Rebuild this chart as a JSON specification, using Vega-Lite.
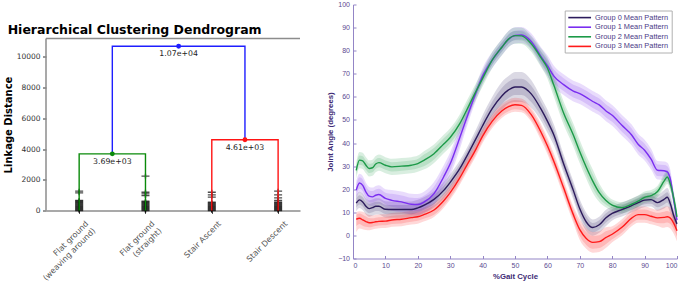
{
  "$schema": "https://vega.github.io/schema/vega-lite/v6.json",
  "background": "white",
  "padding": {"left": 3, "top": 0.5, "right": 0, "bottom": 0},
  "config": {"view": {"stroke": null}, "concat": {"spacing": 25}},
  "resolve": {"scale": {"color": "independent", "stroke": "independent", "fill": "independent"}, "legend": {"color": "independent", "stroke": "independent", "fill": "independent"}},
  "datasets": {
    "links": [
      {"seg": "a", "ord": 1, "x": 5, "y": 0, "cluster": "A"},
      {"seg": "a", "ord": 2, "x": 5, "y": 3690, "cluster": "A"},
      {"seg": "a", "ord": 3, "x": 15, "y": 3690, "cluster": "A"},
      {"seg": "a", "ord": 4, "x": 15, "y": 0, "cluster": "A"},
      {"seg": "b", "ord": 1, "x": 25, "y": 0, "cluster": "B"},
      {"seg": "b", "ord": 2, "x": 25, "y": 4610, "cluster": "B"},
      {"seg": "b", "ord": 3, "x": 35, "y": 4610, "cluster": "B"},
      {"seg": "b", "ord": 4, "x": 35, "y": 0, "cluster": "B"},
      {"seg": "c", "ord": 1, "x": 10, "y": 3690, "cluster": "root"},
      {"seg": "c", "ord": 2, "x": 10, "y": 10700, "cluster": "root"},
      {"seg": "c", "ord": 3, "x": 30, "y": 10700, "cluster": "root"},
      {"seg": "c", "ord": 4, "x": 30, "y": 4610, "cluster": "root"}
    ],
    "nodes": [
      {"x": 10, "y": 3690, "cluster": "A", "lab": "3.69e+03"},
      {"x": 20, "y": 10700, "cluster": "root", "lab": "1.07e+04"},
      {"x": 30, "y": 4610, "cluster": "B", "lab": "4.61e+03"}
    ],
    "samples": [
      {"x": 5, "y": 0}, {"x": 5, "y": 60}, {"x": 5, "y": 120}, {"x": 5, "y": 180}, {"x": 5, "y": 240}, {"x": 5, "y": 300}, {"x": 5, "y": 360}, {"x": 5, "y": 420}, {"x": 5, "y": 480}, {"x": 5, "y": 540}, {"x": 5, "y": 600}, {"x": 5, "y": 660}, {"x": 5, "y": 1150}, {"x": 5, "y": 1260},
      {"x": 15, "y": 0}, {"x": 15, "y": 60}, {"x": 15, "y": 120}, {"x": 15, "y": 180}, {"x": 15, "y": 240}, {"x": 15, "y": 300}, {"x": 15, "y": 360}, {"x": 15, "y": 420}, {"x": 15, "y": 480}, {"x": 15, "y": 540}, {"x": 15, "y": 600}, {"x": 15, "y": 970}, {"x": 15, "y": 1080}, {"x": 15, "y": 1190}, {"x": 15, "y": 2240},
      {"x": 25, "y": 0}, {"x": 25, "y": 60}, {"x": 25, "y": 120}, {"x": 25, "y": 180}, {"x": 25, "y": 240}, {"x": 25, "y": 300}, {"x": 25, "y": 360}, {"x": 25, "y": 420}, {"x": 25, "y": 480}, {"x": 25, "y": 540}, {"x": 25, "y": 870}, {"x": 25, "y": 1020}, {"x": 25, "y": 1190},
      {"x": 35, "y": 0}, {"x": 35, "y": 60}, {"x": 35, "y": 120}, {"x": 35, "y": 180}, {"x": 35, "y": 240}, {"x": 35, "y": 300}, {"x": 35, "y": 360}, {"x": 35, "y": 420}, {"x": 35, "y": 480}, {"x": 35, "y": 540}, {"x": 35, "y": 650}, {"x": 35, "y": 820}, {"x": 35, "y": 1020}, {"x": 35, "y": 1260}
    ],
    "gait": [
      {"g": "Group 0 Mean Pattern", "x": 1, "m": 14, "lo": 10.5, "hi": 17.5, "lo2": 12, "hi2": 16},
      {"g": "Group 0 Mean Pattern", "x": 2, "m": 15.4, "lo": 11.9, "hi": 18.9, "lo2": 13.4, "hi2": 17.4},
      {"g": "Group 0 Mean Pattern", "x": 3, "m": 14.5, "lo": 11, "hi": 18, "lo2": 12.5, "hi2": 16.5},
      {"g": "Group 0 Mean Pattern", "x": 4, "m": 12.6, "lo": 9.1, "hi": 16.1, "lo2": 10.6, "hi2": 14.6},
      {"g": "Group 0 Mean Pattern", "x": 5, "m": 11.6, "lo": 8.1, "hi": 15.1, "lo2": 9.6, "hi2": 13.6},
      {"g": "Group 0 Mean Pattern", "x": 6, "m": 12, "lo": 8.5, "hi": 15.5, "lo2": 10, "hi2": 14},
      {"g": "Group 0 Mean Pattern", "x": 7, "m": 12.6, "lo": 9.1, "hi": 16.1, "lo2": 10.6, "hi2": 14.6},
      {"g": "Group 0 Mean Pattern", "x": 8, "m": 12.6, "lo": 9.1, "hi": 16.1, "lo2": 10.6, "hi2": 14.6},
      {"g": "Group 0 Mean Pattern", "x": 10, "m": 11.3, "lo": 7.8, "hi": 14.8, "lo2": 9.3, "hi2": 13.3},
      {"g": "Group 0 Mean Pattern", "x": 12, "m": 11.2, "lo": 7.7, "hi": 14.7, "lo2": 9.2, "hi2": 13.2},
      {"g": "Group 0 Mean Pattern", "x": 15, "m": 11.2, "lo": 7.7, "hi": 14.7, "lo2": 9.2, "hi2": 13.2},
      {"g": "Group 0 Mean Pattern", "x": 18, "m": 11.2, "lo": 7.7, "hi": 14.7, "lo2": 9.2, "hi2": 13.2},
      {"g": "Group 0 Mean Pattern", "x": 20, "m": 11.9, "lo": 8.4, "hi": 15.4, "lo2": 9.9, "hi2": 13.9},
      {"g": "Group 0 Mean Pattern", "x": 22, "m": 13.1, "lo": 9.6, "hi": 16.6, "lo2": 11.1, "hi2": 15.1},
      {"g": "Group 0 Mean Pattern", "x": 25, "m": 15.6, "lo": 12.1, "hi": 19.1, "lo2": 13.6, "hi2": 17.6},
      {"g": "Group 0 Mean Pattern", "x": 28, "m": 19.5, "lo": 16, "hi": 23, "lo2": 17.5, "hi2": 21.5},
      {"g": "Group 0 Mean Pattern", "x": 30, "m": 23, "lo": 19.5, "hi": 26.5, "lo2": 21, "hi2": 25},
      {"g": "Group 0 Mean Pattern", "x": 33, "m": 29, "lo": 25.5, "hi": 32.5, "lo2": 27, "hi2": 31},
      {"g": "Group 0 Mean Pattern", "x": 35, "m": 34, "lo": 30.5, "hi": 37.5, "lo2": 32, "hi2": 36},
      {"g": "Group 0 Mean Pattern", "x": 38, "m": 42, "lo": 38, "hi": 46, "lo2": 39.8, "hi2": 44.2},
      {"g": "Group 0 Mean Pattern", "x": 40, "m": 47.5, "lo": 43, "hi": 52, "lo2": 45, "hi2": 50},
      {"g": "Group 0 Mean Pattern", "x": 43, "m": 55, "lo": 50, "hi": 60, "lo2": 52, "hi2": 58},
      {"g": "Group 0 Mean Pattern", "x": 46, "m": 60.5, "lo": 54.5, "hi": 66.5, "lo2": 57, "hi2": 64},
      {"g": "Group 0 Mean Pattern", "x": 48, "m": 63, "lo": 57, "hi": 69, "lo2": 59.5, "hi2": 66.5},
      {"g": "Group 0 Mean Pattern", "x": 50, "m": 64.3, "lo": 57.8, "hi": 70.8, "lo2": 60.8, "hi2": 67.8},
      {"g": "Group 0 Mean Pattern", "x": 52, "m": 64.3, "lo": 57.8, "hi": 70.8, "lo2": 60.8, "hi2": 67.8},
      {"g": "Group 0 Mean Pattern", "x": 55, "m": 61.3, "lo": 55.3, "hi": 67.3, "lo2": 57.8, "hi2": 64.8},
      {"g": "Group 0 Mean Pattern", "x": 58, "m": 54.8, "lo": 49.8, "hi": 59.8, "lo2": 51.8, "hi2": 57.8},
      {"g": "Group 0 Mean Pattern", "x": 60, "m": 49.5, "lo": 44.5, "hi": 54.5, "lo2": 46.5, "hi2": 52.5},
      {"g": "Group 0 Mean Pattern", "x": 62, "m": 43.5, "lo": 39, "hi": 48, "lo2": 41, "hi2": 46},
      {"g": "Group 0 Mean Pattern", "x": 65, "m": 31, "lo": 27, "hi": 35, "lo2": 28.5, "hi2": 33.5},
      {"g": "Group 0 Mean Pattern", "x": 68, "m": 19.5, "lo": 15.5, "hi": 23.5, "lo2": 17, "hi2": 22},
      {"g": "Group 0 Mean Pattern", "x": 70, "m": 11.5, "lo": 7.5, "hi": 15.5, "lo2": 9, "hi2": 14},
      {"g": "Group 0 Mean Pattern", "x": 72, "m": 5.8, "lo": 1.8, "hi": 9.8, "lo2": 3.3, "hi2": 8.3},
      {"g": "Group 0 Mean Pattern", "x": 74, "m": 3.4, "lo": -0.1, "hi": 6.9, "lo2": 1.4, "hi2": 5.4},
      {"g": "Group 0 Mean Pattern", "x": 76, "m": 4.6, "lo": 1.1, "hi": 8.1, "lo2": 2.6, "hi2": 6.6},
      {"g": "Group 0 Mean Pattern", "x": 78, "m": 7.5, "lo": 4, "hi": 11, "lo2": 5.5, "hi2": 9.5},
      {"g": "Group 0 Mean Pattern", "x": 80, "m": 9.5, "lo": 6.5, "hi": 12.5, "lo2": 7.7, "hi2": 11.3},
      {"g": "Group 0 Mean Pattern", "x": 83, "m": 11.2, "lo": 8.2, "hi": 14.2, "lo2": 9.4, "hi2": 13},
      {"g": "Group 0 Mean Pattern", "x": 86, "m": 12.9, "lo": 9.9, "hi": 15.9, "lo2": 11.1, "hi2": 14.7},
      {"g": "Group 0 Mean Pattern", "x": 88, "m": 14.2, "lo": 11.2, "hi": 17.2, "lo2": 12.4, "hi2": 16},
      {"g": "Group 0 Mean Pattern", "x": 90, "m": 15.3, "lo": 12.3, "hi": 18.3, "lo2": 13.5, "hi2": 17.1},
      {"g": "Group 0 Mean Pattern", "x": 92, "m": 15.5, "lo": 12.5, "hi": 18.5, "lo2": 13.7, "hi2": 17.3},
      {"g": "Group 0 Mean Pattern", "x": 94, "m": 14.2, "lo": 10.7, "hi": 17.7, "lo2": 12.2, "hi2": 16.2},
      {"g": "Group 0 Mean Pattern", "x": 96, "m": 15.6, "lo": 11.6, "hi": 19.6, "lo2": 13.4, "hi2": 17.8},
      {"g": "Group 0 Mean Pattern", "x": 97, "m": 16.5, "lo": 12.5, "hi": 20.5, "lo2": 14.3, "hi2": 18.7},
      {"g": "Group 0 Mean Pattern", "x": 98, "m": 13.5, "lo": 9.5, "hi": 17.5, "lo2": 11.3, "hi2": 15.7},
      {"g": "Group 0 Mean Pattern", "x": 99, "m": 8.5, "lo": 5.5, "hi": 11.5, "lo2": 6.7, "hi2": 10.3},
      {"g": "Group 0 Mean Pattern", "x": 100, "m": 5, "lo": 2, "hi": 8, "lo2": 3.2, "hi2": 6.8},

      {"g": "Group 1 Mean Pattern", "x": 1, "m": 19.6, "lo": 15.6, "hi": 23.6, "lo2": 17.1, "hi2": 22.1},
      {"g": "Group 1 Mean Pattern", "x": 2, "m": 22.7, "lo": 18.7, "hi": 26.7, "lo2": 20.2, "hi2": 25.2},
      {"g": "Group 1 Mean Pattern", "x": 3, "m": 21.7, "lo": 17.7, "hi": 25.7, "lo2": 19.2, "hi2": 24.2},
      {"g": "Group 1 Mean Pattern", "x": 4, "m": 18.8, "lo": 14.8, "hi": 22.8, "lo2": 16.3, "hi2": 21.3},
      {"g": "Group 1 Mean Pattern", "x": 5, "m": 17, "lo": 13, "hi": 21, "lo2": 14.5, "hi2": 19.5},
      {"g": "Group 1 Mean Pattern", "x": 6, "m": 16.7, "lo": 12.7, "hi": 20.7, "lo2": 14.2, "hi2": 19.2},
      {"g": "Group 1 Mean Pattern", "x": 7, "m": 17.4, "lo": 13.4, "hi": 21.4, "lo2": 14.9, "hi2": 19.9},
      {"g": "Group 1 Mean Pattern", "x": 8, "m": 17.7, "lo": 13.7, "hi": 21.7, "lo2": 15.2, "hi2": 20.2},
      {"g": "Group 1 Mean Pattern", "x": 10, "m": 16, "lo": 12, "hi": 20, "lo2": 13.5, "hi2": 18.5},
      {"g": "Group 1 Mean Pattern", "x": 12, "m": 15.2, "lo": 10.7, "hi": 19.7, "lo2": 12.4, "hi2": 18},
      {"g": "Group 1 Mean Pattern", "x": 15, "m": 14.5, "lo": 10, "hi": 19, "lo2": 11.7, "hi2": 17.3},
      {"g": "Group 1 Mean Pattern", "x": 18, "m": 13.5, "lo": 9, "hi": 18, "lo2": 10.7, "hi2": 16.3},
      {"g": "Group 1 Mean Pattern", "x": 20, "m": 13.4, "lo": 8.9, "hi": 17.9, "lo2": 10.6, "hi2": 16.2},
      {"g": "Group 1 Mean Pattern", "x": 22, "m": 14.5, "lo": 10, "hi": 19, "lo2": 11.7, "hi2": 17.3},
      {"g": "Group 1 Mean Pattern", "x": 25, "m": 18.1, "lo": 13.1, "hi": 23.1, "lo2": 15.1, "hi2": 21.1},
      {"g": "Group 1 Mean Pattern", "x": 28, "m": 25.4, "lo": 20.4, "hi": 30.4, "lo2": 22.4, "hi2": 28.4},
      {"g": "Group 1 Mean Pattern", "x": 30, "m": 31, "lo": 26, "hi": 36, "lo2": 28, "hi2": 34},
      {"g": "Group 1 Mean Pattern", "x": 33, "m": 42.5, "lo": 37.5, "hi": 47.5, "lo2": 39.5, "hi2": 45.5},
      {"g": "Group 1 Mean Pattern", "x": 35, "m": 50.5, "lo": 46.5, "hi": 54.5, "lo2": 48, "hi2": 53},
      {"g": "Group 1 Mean Pattern", "x": 38, "m": 62, "lo": 58.5, "hi": 65.5, "lo2": 60, "hi2": 64},
      {"g": "Group 1 Mean Pattern", "x": 40, "m": 69, "lo": 65.5, "hi": 72.5, "lo2": 67, "hi2": 71},
      {"g": "Group 1 Mean Pattern", "x": 43, "m": 76, "lo": 72.5, "hi": 79.5, "lo2": 74, "hi2": 78},
      {"g": "Group 1 Mean Pattern", "x": 46, "m": 81.6, "lo": 78.1, "hi": 85.1, "lo2": 79.6, "hi2": 83.6},
      {"g": "Group 1 Mean Pattern", "x": 48, "m": 85, "lo": 81.5, "hi": 88.5, "lo2": 83, "hi2": 87},
      {"g": "Group 1 Mean Pattern", "x": 50, "m": 86.6, "lo": 83.1, "hi": 90.1, "lo2": 84.6, "hi2": 88.6},
      {"g": "Group 1 Mean Pattern", "x": 52, "m": 86.8, "lo": 83.3, "hi": 90.3, "lo2": 84.8, "hi2": 88.8},
      {"g": "Group 1 Mean Pattern", "x": 55, "m": 84, "lo": 80.5, "hi": 87.5, "lo2": 82, "hi2": 86},
      {"g": "Group 1 Mean Pattern", "x": 58, "m": 77.5, "lo": 73.5, "hi": 81.5, "lo2": 75, "hi2": 80},
      {"g": "Group 1 Mean Pattern", "x": 60, "m": 73.5, "lo": 69, "hi": 78, "lo2": 70.7, "hi2": 76.3},
      {"g": "Group 1 Mean Pattern", "x": 62, "m": 69, "lo": 64.5, "hi": 73.5, "lo2": 66.2, "hi2": 71.8},
      {"g": "Group 1 Mean Pattern", "x": 65, "m": 65.3, "lo": 60.8, "hi": 69.8, "lo2": 62.5, "hi2": 68.1},
      {"g": "Group 1 Mean Pattern", "x": 68, "m": 62.5, "lo": 58, "hi": 67, "lo2": 59.7, "hi2": 65.3},
      {"g": "Group 1 Mean Pattern", "x": 70, "m": 61.4, "lo": 56.9, "hi": 65.9, "lo2": 58.6, "hi2": 64.2},
      {"g": "Group 1 Mean Pattern", "x": 72, "m": 59.8, "lo": 55.3, "hi": 64.3, "lo2": 57, "hi2": 62.6},
      {"g": "Group 1 Mean Pattern", "x": 74, "m": 58, "lo": 53.5, "hi": 62.5, "lo2": 55.2, "hi2": 60.8},
      {"g": "Group 1 Mean Pattern", "x": 76, "m": 56.5, "lo": 52, "hi": 61, "lo2": 53.7, "hi2": 59.3},
      {"g": "Group 1 Mean Pattern", "x": 78, "m": 54, "lo": 49.5, "hi": 58.5, "lo2": 51.2, "hi2": 56.8},
      {"g": "Group 1 Mean Pattern", "x": 80, "m": 52, "lo": 47.5, "hi": 56.5, "lo2": 49.2, "hi2": 54.8},
      {"g": "Group 1 Mean Pattern", "x": 83, "m": 47.7, "lo": 43.2, "hi": 52.2, "lo2": 44.9, "hi2": 50.5},
      {"g": "Group 1 Mean Pattern", "x": 86, "m": 43.5, "lo": 39, "hi": 48, "lo2": 40.7, "hi2": 46.3},
      {"g": "Group 1 Mean Pattern", "x": 88, "m": 39.5, "lo": 35, "hi": 44, "lo2": 36.7, "hi2": 42.3},
      {"g": "Group 1 Mean Pattern", "x": 90, "m": 36.9, "lo": 32.4, "hi": 41.4, "lo2": 34.1, "hi2": 39.7},
      {"g": "Group 1 Mean Pattern", "x": 92, "m": 33, "lo": 28.5, "hi": 37.5, "lo2": 30.2, "hi2": 35.8},
      {"g": "Group 1 Mean Pattern", "x": 94, "m": 28.2, "lo": 24.2, "hi": 32.2, "lo2": 25.7, "hi2": 30.7},
      {"g": "Group 1 Mean Pattern", "x": 96, "m": 28, "lo": 24, "hi": 32, "lo2": 25.5, "hi2": 30.5},
      {"g": "Group 1 Mean Pattern", "x": 97, "m": 27.5, "lo": 23.5, "hi": 31.5, "lo2": 25, "hi2": 30},
      {"g": "Group 1 Mean Pattern", "x": 98, "m": 24, "lo": 20, "hi": 28, "lo2": 21.5, "hi2": 26.5},
      {"g": "Group 1 Mean Pattern", "x": 99, "m": 15.3, "lo": 12.3, "hi": 18.3, "lo2": 13.3, "hi2": 17.3},
      {"g": "Group 1 Mean Pattern", "x": 100, "m": 6.6, "lo": 3.6, "hi": 9.6, "lo2": 4.6, "hi2": 8.6},

      {"g": "Group 2 Mean Pattern", "x": 1, "m": 28.2, "lo": 24.7, "hi": 31.7, "lo2": 26.2, "hi2": 30.2},
      {"g": "Group 2 Mean Pattern", "x": 2, "m": 32.6, "lo": 29.1, "hi": 36.1, "lo2": 30.6, "hi2": 34.6},
      {"g": "Group 2 Mean Pattern", "x": 3, "m": 32.3, "lo": 28.8, "hi": 35.8, "lo2": 30.3, "hi2": 34.3},
      {"g": "Group 2 Mean Pattern", "x": 4, "m": 30.4, "lo": 26.9, "hi": 33.9, "lo2": 28.4, "hi2": 32.4},
      {"g": "Group 2 Mean Pattern", "x": 5, "m": 29, "lo": 25.5, "hi": 32.5, "lo2": 27, "hi2": 31},
      {"g": "Group 2 Mean Pattern", "x": 6, "m": 29.3, "lo": 25.8, "hi": 32.8, "lo2": 27.3, "hi2": 31.3},
      {"g": "Group 2 Mean Pattern", "x": 7, "m": 30.9, "lo": 27.4, "hi": 34.4, "lo2": 28.9, "hi2": 32.9},
      {"g": "Group 2 Mean Pattern", "x": 8, "m": 31.5, "lo": 28, "hi": 35, "lo2": 29.5, "hi2": 33.5},
      {"g": "Group 2 Mean Pattern", "x": 10, "m": 30.4, "lo": 26.9, "hi": 33.9, "lo2": 28.4, "hi2": 32.4},
      {"g": "Group 2 Mean Pattern", "x": 12, "m": 29.7, "lo": 26.2, "hi": 33.2, "lo2": 27.7, "hi2": 31.7},
      {"g": "Group 2 Mean Pattern", "x": 15, "m": 30, "lo": 26.5, "hi": 33.5, "lo2": 28, "hi2": 32},
      {"g": "Group 2 Mean Pattern", "x": 18, "m": 30.4, "lo": 26.9, "hi": 33.9, "lo2": 28.4, "hi2": 32.4},
      {"g": "Group 2 Mean Pattern", "x": 20, "m": 31.1, "lo": 27.6, "hi": 34.6, "lo2": 29.1, "hi2": 33.1},
      {"g": "Group 2 Mean Pattern", "x": 22, "m": 32.6, "lo": 28.6, "hi": 36.6, "lo2": 30.1, "hi2": 35.1},
      {"g": "Group 2 Mean Pattern", "x": 25, "m": 35.4, "lo": 31.4, "hi": 39.4, "lo2": 32.9, "hi2": 37.9},
      {"g": "Group 2 Mean Pattern", "x": 28, "m": 39.6, "lo": 35.6, "hi": 43.6, "lo2": 37.1, "hi2": 42.1},
      {"g": "Group 2 Mean Pattern", "x": 30, "m": 42.4, "lo": 38.4, "hi": 46.4, "lo2": 39.9, "hi2": 44.9},
      {"g": "Group 2 Mean Pattern", "x": 33, "m": 48.5, "lo": 44.5, "hi": 52.5, "lo2": 46, "hi2": 51},
      {"g": "Group 2 Mean Pattern", "x": 35, "m": 54, "lo": 50, "hi": 58, "lo2": 51.5, "hi2": 56.5},
      {"g": "Group 2 Mean Pattern", "x": 38, "m": 62.5, "lo": 59, "hi": 66, "lo2": 60.5, "hi2": 64.5},
      {"g": "Group 2 Mean Pattern", "x": 40, "m": 68, "lo": 64.5, "hi": 71.5, "lo2": 66, "hi2": 70},
      {"g": "Group 2 Mean Pattern", "x": 43, "m": 76, "lo": 72.5, "hi": 79.5, "lo2": 74, "hi2": 78},
      {"g": "Group 2 Mean Pattern", "x": 46, "m": 81.6, "lo": 78.1, "hi": 85.1, "lo2": 79.6, "hi2": 83.6},
      {"g": "Group 2 Mean Pattern", "x": 48, "m": 85, "lo": 81.5, "hi": 88.5, "lo2": 83, "hi2": 87},
      {"g": "Group 2 Mean Pattern", "x": 50, "m": 86.5, "lo": 83, "hi": 90, "lo2": 84.5, "hi2": 88.5},
      {"g": "Group 2 Mean Pattern", "x": 52, "m": 86.4, "lo": 82.9, "hi": 89.9, "lo2": 84.4, "hi2": 88.4},
      {"g": "Group 2 Mean Pattern", "x": 55, "m": 83, "lo": 79.5, "hi": 86.5, "lo2": 81, "hi2": 85},
      {"g": "Group 2 Mean Pattern", "x": 58, "m": 77, "lo": 73, "hi": 81, "lo2": 74.5, "hi2": 79.5},
      {"g": "Group 2 Mean Pattern", "x": 60, "m": 72.5, "lo": 68, "hi": 77, "lo2": 69.7, "hi2": 75.3},
      {"g": "Group 2 Mean Pattern", "x": 62, "m": 65, "lo": 60, "hi": 70, "lo2": 62, "hi2": 68},
      {"g": "Group 2 Mean Pattern", "x": 65, "m": 53, "lo": 48, "hi": 58, "lo2": 50, "hi2": 56},
      {"g": "Group 2 Mean Pattern", "x": 68, "m": 43.5, "lo": 38.5, "hi": 48.5, "lo2": 40.5, "hi2": 46.5},
      {"g": "Group 2 Mean Pattern", "x": 70, "m": 36.2, "lo": 31.2, "hi": 41.2, "lo2": 33.2, "hi2": 39.2},
      {"g": "Group 2 Mean Pattern", "x": 72, "m": 29.5, "lo": 24.5, "hi": 34.5, "lo2": 26.5, "hi2": 32.5},
      {"g": "Group 2 Mean Pattern", "x": 74, "m": 23.5, "lo": 18.5, "hi": 28.5, "lo2": 20.5, "hi2": 26.5},
      {"g": "Group 2 Mean Pattern", "x": 76, "m": 18.5, "lo": 14.5, "hi": 22.5, "lo2": 16, "hi2": 21},
      {"g": "Group 2 Mean Pattern", "x": 78, "m": 15.2, "lo": 12.2, "hi": 18.2, "lo2": 13.4, "hi2": 17},
      {"g": "Group 2 Mean Pattern", "x": 80, "m": 13.1, "lo": 10.6, "hi": 15.6, "lo2": 11.6, "hi2": 14.6},
      {"g": "Group 2 Mean Pattern", "x": 83, "m": 12, "lo": 9.5, "hi": 14.5, "lo2": 10.5, "hi2": 13.5},
      {"g": "Group 2 Mean Pattern", "x": 86, "m": 13.5, "lo": 11, "hi": 16, "lo2": 12, "hi2": 15},
      {"g": "Group 2 Mean Pattern", "x": 88, "m": 14.8, "lo": 12.3, "hi": 17.3, "lo2": 13.3, "hi2": 16.3},
      {"g": "Group 2 Mean Pattern", "x": 90, "m": 16.5, "lo": 14, "hi": 19, "lo2": 15, "hi2": 18},
      {"g": "Group 2 Mean Pattern", "x": 92, "m": 17.2, "lo": 14.7, "hi": 19.7, "lo2": 15.7, "hi2": 18.7},
      {"g": "Group 2 Mean Pattern", "x": 94, "m": 19, "lo": 16.5, "hi": 21.5, "lo2": 17.5, "hi2": 20.5},
      {"g": "Group 2 Mean Pattern", "x": 96, "m": 23.5, "lo": 20.5, "hi": 26.5, "lo2": 21.5, "hi2": 25.5},
      {"g": "Group 2 Mean Pattern", "x": 97, "m": 25.3, "lo": 22.3, "hi": 28.3, "lo2": 23.3, "hi2": 27.3},
      {"g": "Group 2 Mean Pattern", "x": 98, "m": 22, "lo": 19, "hi": 25, "lo2": 20, "hi2": 24},
      {"g": "Group 2 Mean Pattern", "x": 99, "m": 16, "lo": 13, "hi": 19, "lo2": 14, "hi2": 18},
      {"g": "Group 2 Mean Pattern", "x": 100, "m": 8, "lo": 5, "hi": 11, "lo2": 6, "hi2": 10},

      {"g": "Group 3 Mean Pattern", "x": 1, "m": 7, "lo": 1.5, "hi": 10, "lo2": 4, "hi2": 9},
      {"g": "Group 3 Mean Pattern", "x": 2, "m": 7.4, "lo": 3, "hi": 10.5, "lo2": 4.9, "hi2": 9.5},
      {"g": "Group 3 Mean Pattern", "x": 3, "m": 6.7, "lo": 2.7, "hi": 10.2, "lo2": 4.2, "hi2": 9},
      {"g": "Group 3 Mean Pattern", "x": 4, "m": 6, "lo": 2.3, "hi": 9.5, "lo2": 3.7, "hi2": 8.2},
      {"g": "Group 3 Mean Pattern", "x": 5, "m": 5.5, "lo": 2.2, "hi": 8.8, "lo2": 3.5, "hi2": 7.5},
      {"g": "Group 3 Mean Pattern", "x": 6, "m": 5.6, "lo": 2.6, "hi": 8.6, "lo2": 3.8, "hi2": 7.4},
      {"g": "Group 3 Mean Pattern", "x": 7, "m": 5.9, "lo": 2.9, "hi": 8.9, "lo2": 4.1, "hi2": 7.7},
      {"g": "Group 3 Mean Pattern", "x": 8, "m": 6.1, "lo": 3.1, "hi": 9.1, "lo2": 4.3, "hi2": 7.9},
      {"g": "Group 3 Mean Pattern", "x": 10, "m": 6.2, "lo": 3.2, "hi": 9.2, "lo2": 4.4, "hi2": 8},
      {"g": "Group 3 Mean Pattern", "x": 12, "m": 6.7, "lo": 3.7, "hi": 9.7, "lo2": 4.9, "hi2": 8.5},
      {"g": "Group 3 Mean Pattern", "x": 15, "m": 7, "lo": 4, "hi": 10, "lo2": 5.2, "hi2": 8.8},
      {"g": "Group 3 Mean Pattern", "x": 18, "m": 7.7, "lo": 4.7, "hi": 10.7, "lo2": 5.9, "hi2": 9.5},
      {"g": "Group 3 Mean Pattern", "x": 20, "m": 8.1, "lo": 5.1, "hi": 11.1, "lo2": 6.3, "hi2": 9.9},
      {"g": "Group 3 Mean Pattern", "x": 22, "m": 9.1, "lo": 6.1, "hi": 12.1, "lo2": 7.3, "hi2": 10.9},
      {"g": "Group 3 Mean Pattern", "x": 25, "m": 11, "lo": 8, "hi": 14, "lo2": 9, "hi2": 13},
      {"g": "Group 3 Mean Pattern", "x": 28, "m": 15, "lo": 12, "hi": 18, "lo2": 13, "hi2": 17},
      {"g": "Group 3 Mean Pattern", "x": 30, "m": 18.5, "lo": 15.5, "hi": 21.5, "lo2": 16.5, "hi2": 20.5},
      {"g": "Group 3 Mean Pattern", "x": 33, "m": 25, "lo": 22, "hi": 28, "lo2": 23, "hi2": 27},
      {"g": "Group 3 Mean Pattern", "x": 35, "m": 30, "lo": 27, "hi": 33, "lo2": 28, "hi2": 32},
      {"g": "Group 3 Mean Pattern", "x": 38, "m": 37.5, "lo": 34.5, "hi": 40.5, "lo2": 35.5, "hi2": 39.5},
      {"g": "Group 3 Mean Pattern", "x": 40, "m": 43, "lo": 40, "hi": 46, "lo2": 41, "hi2": 45},
      {"g": "Group 3 Mean Pattern", "x": 43, "m": 49.5, "lo": 46.5, "hi": 52.5, "lo2": 47.5, "hi2": 51.5},
      {"g": "Group 3 Mean Pattern", "x": 46, "m": 54, "lo": 51, "hi": 57, "lo2": 52, "hi2": 56},
      {"g": "Group 3 Mean Pattern", "x": 48, "m": 55.8, "lo": 52.8, "hi": 58.8, "lo2": 53.8, "hi2": 57.8},
      {"g": "Group 3 Mean Pattern", "x": 50, "m": 56.6, "lo": 53.6, "hi": 59.6, "lo2": 54.6, "hi2": 58.6},
      {"g": "Group 3 Mean Pattern", "x": 52, "m": 56.3, "lo": 53.3, "hi": 59.3, "lo2": 54.3, "hi2": 58.3},
      {"g": "Group 3 Mean Pattern", "x": 55, "m": 52.3, "lo": 49.3, "hi": 55.3, "lo2": 50.3, "hi2": 54.3},
      {"g": "Group 3 Mean Pattern", "x": 58, "m": 44.8, "lo": 41.3, "hi": 48.3, "lo2": 42.6, "hi2": 47},
      {"g": "Group 3 Mean Pattern", "x": 60, "m": 38.8, "lo": 35.3, "hi": 42.3, "lo2": 36.6, "hi2": 41},
      {"g": "Group 3 Mean Pattern", "x": 62, "m": 32, "lo": 28.5, "hi": 35.5, "lo2": 29.8, "hi2": 34.2},
      {"g": "Group 3 Mean Pattern", "x": 65, "m": 20.6, "lo": 17.1, "hi": 24.1, "lo2": 18.4, "hi2": 22.8},
      {"g": "Group 3 Mean Pattern", "x": 68, "m": 9, "lo": 5.5, "hi": 12.5, "lo2": 6.8, "hi2": 11.2},
      {"g": "Group 3 Mean Pattern", "x": 70, "m": 2.5, "lo": -2, "hi": 7, "lo2": -0.3, "hi2": 5.3},
      {"g": "Group 3 Mean Pattern", "x": 72, "m": -1.3, "lo": -5.8, "hi": 3.2, "lo2": -4.1, "hi2": 1.5},
      {"g": "Group 3 Mean Pattern", "x": 74, "m": -3, "lo": -7.5, "hi": 1.5, "lo2": -5.8, "hi2": -0.2},
      {"g": "Group 3 Mean Pattern", "x": 76, "m": -2.7, "lo": -7.2, "hi": 1.8, "lo2": -5.5, "hi2": 0.1},
      {"g": "Group 3 Mean Pattern", "x": 78, "m": -1, "lo": -5.5, "hi": 3.5, "lo2": -3.8, "hi2": 1.8},
      {"g": "Group 3 Mean Pattern", "x": 80, "m": 0.5, "lo": -3, "hi": 4, "lo2": -1.7, "hi2": 2.7},
      {"g": "Group 3 Mean Pattern", "x": 83, "m": 3.5, "lo": 0, "hi": 7, "lo2": 1.3, "hi2": 5.7},
      {"g": "Group 3 Mean Pattern", "x": 86, "m": 7.5, "lo": 4, "hi": 11, "lo2": 5.3, "hi2": 9.7},
      {"g": "Group 3 Mean Pattern", "x": 88, "m": 9, "lo": 5.5, "hi": 12.5, "lo2": 6.8, "hi2": 11.2},
      {"g": "Group 3 Mean Pattern", "x": 90, "m": 9, "lo": 5.5, "hi": 12.5, "lo2": 6.8, "hi2": 11.2},
      {"g": "Group 3 Mean Pattern", "x": 92, "m": 8.3, "lo": 4.8, "hi": 11.8, "lo2": 6.1, "hi2": 10.5},
      {"g": "Group 3 Mean Pattern", "x": 94, "m": 7.6, "lo": 4.1, "hi": 11.1, "lo2": 5.4, "hi2": 9.8},
      {"g": "Group 3 Mean Pattern", "x": 96, "m": 7.8, "lo": 3.3, "hi": 12.3, "lo2": 5.3, "hi2": 10.3},
      {"g": "Group 3 Mean Pattern", "x": 97, "m": 8.1, "lo": 3.6, "hi": 12.6, "lo2": 5.6, "hi2": 10.6},
      {"g": "Group 3 Mean Pattern", "x": 98, "m": 7.4, "lo": 2.9, "hi": 11.9, "lo2": 4.9, "hi2": 9.9},
      {"g": "Group 3 Mean Pattern", "x": 99, "m": 5.2, "lo": 0.7, "hi": 9.7, "lo2": 2.7, "hi2": 7.7},
      {"g": "Group 3 Mean Pattern", "x": 100, "m": 2, "lo": -2.5, "hi": 6.5, "lo2": -0.5, "hi2": 4.5}
    ]
  },
  "hconcat": [
    {
      "width": 254,
      "height": 206,
      "title": {"text": "Hierarchical Clustering Dendrogram", "anchor": "start", "frame": "bounds", "dx": 4, "font": "DejaVu Sans", "fontSize": 12.5, "fontWeight": "bold", "color": "#000000", "baseline": "alphabetic", "offset": -41.5},
      "layer": [
        {"data": {"name": "samples"},
         "mark": {"type": "point", "shape": "M-1,0L1,0M0,-0.6L0,0.6", "filled": false, "stroke": "#000000", "strokeWidth": 1.4, "opacity": 0.7, "size": 64},
         "encoding": {
           "x": {"field": "x", "type": "quantitative", "scale": {"domain": [0, 38.3], "nice": false, "zero": false},
             "axis": {"title": null, "values": [5, 15, 25, 35], "grid": false,
               "labelExpr": "datum.value == 5 ? ['Flat ground\u00a0\u00a0\u00a0\u00a0\u00a0\u00a0', '(weaving around)'] : datum.value == 15 ? ['Flat ground', '(straight)\u00a0\u00a0\u00a0'] : datum.value == 25 ? 'Stair Ascent' : 'Stair Descent'",
               "labelAngle": -45, "labelAlign": "right", "labelBaseline": "top", "labelOffset": 5, "labelPadding": 6,
               "labelFont": "DejaVu Sans", "labelFontSize": 8, "labelColor": "#555555", "labelLineHeight": 10,
               "domainColor": "#8c8c8c", "domainWidth": 1.5, "tickColor": "#555555", "tickSize": 3}},
           "y": {"field": "y", "type": "quantitative", "scale": {"domain": [0, 13414], "nice": false},
             "axis": {"title": "Linkage Distance", "values": [0, 2000, 4000, 6000, 8000, 10000], "format": "d", "grid": false, "domain": false,
               "titleFont": "DejaVu Sans", "titleFontSize": 10, "titleFontWeight": "bold", "titleColor": "#000000", "titlePadding": 2.5, "titleY": 120,
               "labelFont": "DejaVu Sans", "labelFontSize": 7.5, "labelColor": "#333333", "labelPadding": 2.5,
               "tickColor": "#333333", "tickSize": 3.5}}}},
        {"data": {"values": [{}]},
         "mark": {"type": "rule", "color": "#8c8c8c", "strokeWidth": 1.5},
         "encoding": {"y": {"datum": 11200}}},
        {"data": {"values": [{}]},
         "mark": {"type": "rule", "color": "#8c8c8c", "strokeWidth": 1.5},
         "encoding": {"x": {"datum": 0}, "y": {"datum": 0}, "y2": {"datum": 11200}}},
        {"data": {"name": "links"},
         "mark": {"type": "line", "strokeWidth": 1.4},
         "encoding": {"x": {"field": "x", "type": "quantitative"}, "y": {"field": "y", "type": "quantitative"},
           "detail": {"field": "seg"}, "order": {"field": "ord", "type": "quantitative"},
           "color": {"field": "cluster", "type": "nominal", "scale": {"domain": ["A", "B", "root"], "range": ["#0a8a0a", "#ff1414", "#1e1eff"]}, "legend": null}}},
        {"data": {"name": "nodes"},
         "mark": {"type": "point", "filled": true, "opacity": 1, "size": 24},
         "encoding": {"x": {"field": "x", "type": "quantitative"}, "y": {"field": "y", "type": "quantitative"},
           "color": {"field": "cluster", "type": "nominal", "scale": {"domain": ["A", "B", "root"], "range": ["#0a8a0a", "#ff1414", "#1e1eff"]}, "legend": null}}},
        {"data": {"name": "nodes"},
         "mark": {"type": "text", "baseline": "top", "dy": 4, "font": "DejaVu Sans", "fontSize": 7.8, "color": "#222222"},
         "encoding": {"x": {"field": "x", "type": "quantitative"}, "y": {"field": "y", "type": "quantitative"}, "text": {"field": "lab"}}}
      ]
    },
    {
      "width": 324,
      "height": 254,
      "data": {"name": "gait"},
      "encoding": {
        "x": {"field": "x", "type": "quantitative", "scale": {"domain": [0, 100], "nice": false},
          "axis": {"title": "%Gait Cycle", "values": [0, 10, 20, 30, 40, 50, 60, 70, 80, 90, 100], "grid": false,
            "titleFont": "Liberation Sans", "titleFontSize": 7.8, "titleFontWeight": "bold", "titleColor": "#3e2b75", "titlePadding": 4,
            "labelFont": "Liberation Sans", "labelFontSize": 7, "labelColor": "#5b4a90", "labelPadding": 6,
            "domainColor": "#9385c6", "tickColor": "#9385c6", "tickSize": -3}},
        "y": {"field": "m", "type": "quantitative", "scale": {"domain": [-10, 100], "nice": false},
          "axis": {"title": "Joint Angle (degrees)", "values": [-10, 0, 10, 20, 30, 40, 50, 60, 70, 80, 90, 100], "grid": false,
            "titleFont": "Liberation Sans", "titleFontSize": 7.8, "titleFontWeight": "bold", "titleColor": "#3e2b75", "titlePadding": 3,
            "labelFont": "Liberation Sans", "labelFontSize": 7, "labelColor": "#5b4a90", "labelPadding": 6.5,
            "domainColor": "#9385c6", "tickColor": "#9385c6", "tickSize": -3}}
      },
      "layer": [
        {"mark": {"type": "area", "interpolate": "monotone", "fillOpacity": 0.17},
         "encoding": {"y": {"field": "lo", "type": "quantitative"}, "y2": {"field": "hi"},
           "fill": {"field": "g", "type": "nominal", "scale": {"domain": ["Group 3 Mean Pattern", "Group 2 Mean Pattern", "Group 1 Mean Pattern", "Group 0 Mean Pattern"], "range": ["#ff1a1a", "#1c9a48", "#7a2ef0", "#2c1b5c"]}, "legend": null}}},
        {"mark": {"type": "area", "interpolate": "monotone", "fillOpacity": 0.17},
         "encoding": {"y": {"field": "lo2", "type": "quantitative"}, "y2": {"field": "hi2"},
           "fill": {"field": "g", "type": "nominal", "scale": {"domain": ["Group 3 Mean Pattern", "Group 2 Mean Pattern", "Group 1 Mean Pattern", "Group 0 Mean Pattern"], "range": ["#ff1a1a", "#1c9a48", "#7a2ef0", "#2c1b5c"]}, "legend": null}}},
        {"mark": {"type": "line", "interpolate": "monotone", "strokeWidth": 1.4},
         "encoding": {"stroke": {"field": "g", "type": "nominal",
           "scale": {"domain": ["Group 0 Mean Pattern", "Group 1 Mean Pattern", "Group 2 Mean Pattern", "Group 3 Mean Pattern"], "range": ["#2c1b5c", "#7a2ef0", "#1c9a48", "#ff1a1a"]},
           "legend": {"title": null, "orient": "none", "legendX": 211.7, "legendY": 6, "fillColor": "#ffffff", "strokeColor": "#b0b0b0", "padding": 2.6,
             "symbolType": "M-1,0L5.5,0", "symbolSize": 49, "symbolStrokeWidth": 1.6, "labelFont": "Liberation Sans", "labelFontSize": 7.4, "labelColor": "#4a3a85", "labelOffset": 18.75, "rowPadding": 1.6, "labelLimit": 200}}}}
      ]
    }
  ]
}
